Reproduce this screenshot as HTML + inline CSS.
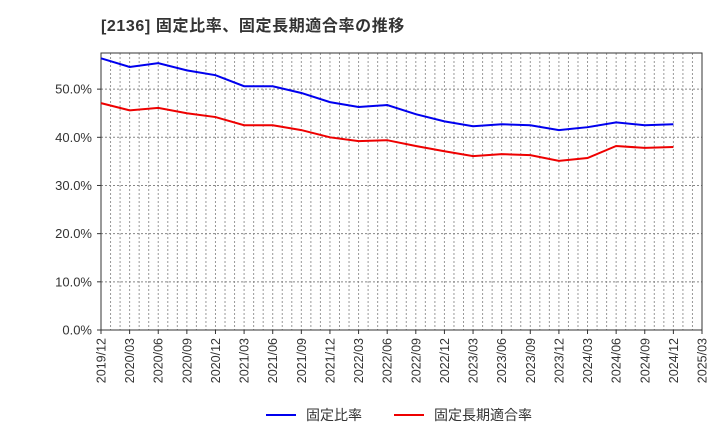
<!DOCTYPE html>
<html><head><meta charset="utf-8"><style>
body{margin:0;background:#fff;font-family:"Liberation Sans","Noto Sans CJK JP",sans-serif;}
svg text{font-family:"Liberation Sans","Noto Sans CJK JP",sans-serif;}
</style></head><body>
<svg id="c" width="720" height="440">
<text x="101" y="31" font-size="16" font-weight="bold" letter-spacing="0.6" fill="#333">[2136]  固定比率、固定長期適合率の推移</text>
</svg>
<script>
const categories=["2019/12","2020/03","2020/06","2020/09","2020/12","2021/03","2021/06","2021/09","2021/12","2022/03","2022/06","2022/09","2022/12","2023/03","2023/06","2023/09","2023/12","2024/03","2024/06","2024/09","2024/12","2025/03"];
const fixedRatio=[56.4,54.6,55.4,53.9,52.9,50.6,50.6,49.2,47.3,46.3,46.7,44.8,43.3,42.3,42.7,42.5,41.5,42.1,43.1,42.5,42.7];
const fixedLongRatio=[47.1,45.6,46.1,45.0,44.2,42.5,42.5,41.5,40.0,39.2,39.4,38.2,37.1,36.1,36.5,36.3,35.1,35.7,38.2,37.8,38.0];
const yTicks=[0,10,20,30,40,50];
const yTickLabels=["0.0%","10.0%","20.0%","30.0%","40.0%","50.0%"];
const L=101,R=702,T=53,B=330,yMax=57.5;
const NS="http://www.w3.org/2000/svg",svg=document.getElementById('c');
const x=i=>L+(R-L)*i/(categories.length-1);
const y=v=>B-(B-T)*v/yMax;
function mk(t,a){const e=document.createElementNS(NS,t);for(const k in a)e.setAttribute(k,a[k]);svg.appendChild(e);return e;}
const nm=(categories.length-1)*3;
for(let m=1;m<nm;m++){const xx=L+(R-L)*m/nm;const e=mk('line',{x1:xx,x2:xx,y1:T,y2:B,stroke:'#999','stroke-width':1,'stroke-dasharray':'2,2'});

}
yTicks.forEach((v,i)=>{const yy=y(v);
if(v>0){const g=mk('line',{x1:L,x2:R,y1:yy,y2:yy,stroke:'#888','stroke-width':1,'stroke-dasharray':'2,2'});

}
mk('line',{x1:L-4,x2:L,y1:yy,y2:yy,stroke:'#333'});
const t=mk('text',{x:L-9,y:yy+4.5,'text-anchor':'end','font-size':13,fill:'#333'});t.textContent=yTickLabels[i];

});
categories.forEach((c,i)=>{const xx=x(i);mk('line',{x1:xx,x2:xx,y1:B,y2:B+4,stroke:'#333'});
const t=mk('text',{x:0,y:0,'text-anchor':'end','font-size':12.5,fill:'#333',transform:`translate(${xx+4.5},${B+8}) rotate(-90)`});t.textContent=c;

});
const fr=mk('rect',{x:L,y:T,width:R-L,height:B-T,fill:'none',stroke:'#333','stroke-width':1});


function line(d,col,n){const p=mk('polyline',{points:d.map((v,i)=>x(i)+','+y(v)).join(' '),fill:'none',stroke:col,'stroke-width':2});

}
line(fixedRatio,'#0000ee','fixed-ratio-line');
line(fixedLongRatio,'#ee0000','fixed-long-term-ratio-line');
const legend=[["固定比率","#0000ee",266],["固定長期適合率","#ee0000",394]];
legend.forEach(l=>{mk('line',{x1:l[2],x2:l[2]+30,y1:415,y2:415,stroke:l[1],'stroke-width':2});
const t=mk('text',{x:l[2]+40,y:420,'font-size':14,fill:'#333'});t.textContent=l[0];

});
</script>
</body></html>
